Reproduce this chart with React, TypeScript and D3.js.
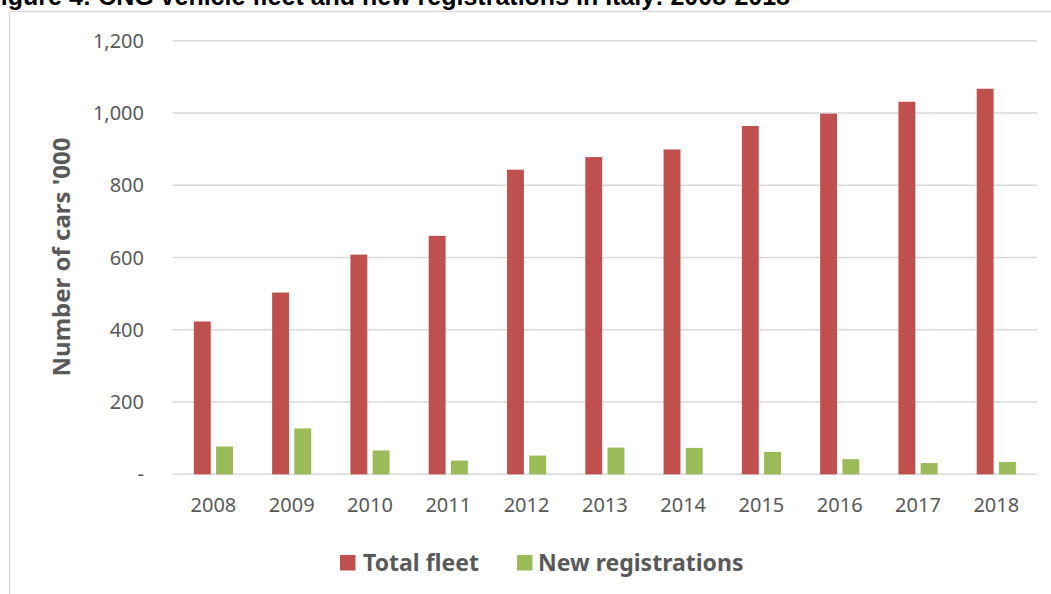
import React from "react";
import * as d3 from "d3";

const years = ["2008", "2009", "2010", "2011", "2012", "2013", "2014", "2015", "2016", "2017", "2018"];
const totalFleet = [423, 503, 608, 660, 843, 878, 899, 964, 998, 1031, 1067];
const newRegistrations = [77, 127, 66, 38, 52, 74, 73, 62, 42, 31, 34];
const yTicks = [0, 200, 400, 600, 800, 1000, 1200];
const seriesNames = ["Total fleet", "New registrations"];
const seriesColors = ["#C0504D", "#9BBB59"];

const W = 1051;
const H = 594;
const FONT = "'Noto Sans', 'Open Sans', sans-serif";
const TEXT = "#595959";

export default function App() {
  const y = d3.scaleLinear().domain([0, 1200]).range([474.3, 40.7]);
  const x = d3
    .scaleBand<string>()
    .domain(years)
    .range([172.7, 1037])
    .paddingInner(0.5)
    .paddingOuter(0.27);
  const x1 = d3
    .scaleBand<number>()
    .domain([0, 1])
    .range([0, x.bandwidth()])
    .paddingInner(0.24);
  const series = [totalFleet, newRegistrations];
  const fmt = (v: number) => (v === 0 ? "-" : d3.format(",")(v));

  const legendItems = [
    { sx: 340, tx: 363 },
    { sx: 517, tx: 538 },
  ];

  return (
    <svg
      width={W}
      height={H}
      style={{ position: "absolute", left: 0, top: 0, background: "#fff" }}
    >
      <rect x={0} y={0} width={W} height={H} fill="#fff" />
      <text
        x={790}
        y={5}
        textAnchor="end"
        fontFamily="'Liberation Sans', Arial, sans-serif"
        fontWeight="bold"
        fontSize={25}
        fill="#000"
      >
        Figure 4: CNG vehicle fleet and new registrations in Italy: 2008-2018
      </text>
      {/* chart frame */}
      <path d={`M9.5,${H + 2} V11.5 H${W + 2}`} fill="none" stroke="#D9D9D9" strokeWidth={1.5} />

      {/* gridlines */}
      {yTicks.map((t) => (
        <line
          key={t}
          x1={172.7}
          x2={1037}
          y1={y(t)}
          y2={y(t)}
          stroke="#D9D9D9"
          strokeWidth={1.5}
        />
      ))}
      {yTicks.map((t) => (
        <text
          key={"l" + t}
          x={144}
          y={y(t) + 7}
          textAnchor="end"
          fontFamily={FONT}
          fontSize={20}
          fill={TEXT}
        >
          {fmt(t)}
        </text>
      ))}

      {/* bars */}
      {series.map((vals, si) =>
        vals.map((v, i) => (
          <rect
            key={si + "-" + i}
            x={(x(years[i]) as number) + (x1(si) as number)}
            y={y(v)}
            width={x1.bandwidth()}
            height={y(0) - y(v)}
            fill={seriesColors[si]}
          />
        ))
      )}

      {/* x labels */}
      {years.map((yr) => (
        <text
          key={yr}
          x={(x(yr) as number) + x.bandwidth() / 2}
          y={512}
          textAnchor="middle"
          fontFamily={FONT}
          fontSize={20}
          fill={TEXT}
        >
          {yr}
        </text>
      ))}

      {/* y title */}
      <text
        transform="translate(70,257) rotate(-90)"
        textAnchor="middle"
        fontFamily={FONT}
        fontWeight="bold"
        fontSize={24}
        fill={TEXT}
      >
        Number of cars '000
      </text>

      {/* legend */}
      {seriesNames.map((n, i) => (
        <g key={n}>
          <rect x={legendItems[i].sx} y={555} width={15.5} height={15.5} fill={seriesColors[i]} />
          <text
            x={legendItems[i].tx}
            y={571}
            fontFamily={FONT}
            fontWeight="bold"
            fontSize={23}
            fill={TEXT}
          >
            {n}
          </text>
        </g>
      ))}
    </svg>
  );
}
